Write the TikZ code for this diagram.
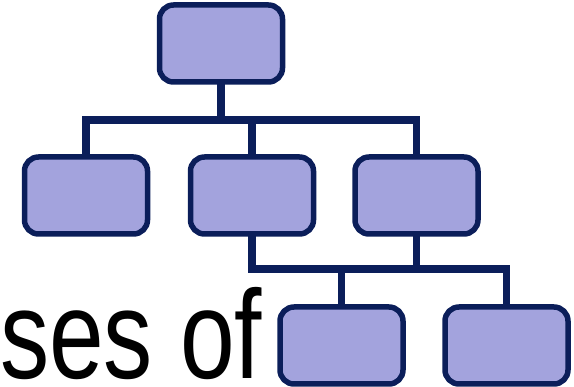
\documentclass[tikz,border=0pt]{standalone}
\usepackage{fontspec}
\setmainfont{Liberation Sans}
\definecolor{boxfill}{HTML}{A3A3DD}
\definecolor{navy}{HTML}{0B1E5A}
\begin{document}
\begin{tikzpicture}[x=1pt,y=-1pt,
  orgbox/.style={draw=navy, fill=boxfill, line width=5.5pt, rounded corners=14pt,
    minimum width=117.5pt, minimum height=71.5pt, inner sep=0pt},
  conn/.style={draw=navy, line width=7.5pt, line join=miter}]
  \useasboundingbox (0,0) rectangle (574,387);
  % caption fragment on the left
  \node[anchor=base west, inner sep=0pt, xscale=0.78, text depth=0pt,
    font=\fontsize{126}{130}\selectfont] (caption) at (0,379) {ses of};
  % boxes
  \node[orgbox] (top) at (221,43.5) {};
  \node[orgbox] (m1) at (86,195.5) {};
  \node[orgbox] (m2) at (252,195.5) {};
  \node[orgbox] (m3) at (416.5,195.5) {};
  \node[orgbox] (b1) at (341.5,345.5) {};
  \node[orgbox] (b2) at (506.5,345.5) {};
  \coordinate (busA) at (0,120);
  \coordinate (busB) at (0,269);
  % upper connectors
  \draw[conn] (top.south) -- (top.south |- busA);
  \draw[conn] (m1.north) |- (m3.north |- busA) -- (m3.north);
  \draw[conn] (m2.north) -- (m2.north |- busA);
  % lower connectors
  \draw[conn] (m2.south) |- (b2.north |- busB) -- (b2.north);
  \draw[conn] (m3.south) -- (m3.south |- busB);
  \draw[conn] (b1.north) -- (b1.north |- busB);
  % redraw boxes above the connector ends
  \foreach \n in {top,m1,m2,m3,b1,b2}
    \draw[navy, line width=5.5pt, rounded corners=14pt, fill=boxfill]
      (\n.north west) rectangle (\n.south east);
\end{tikzpicture}
\end{document}
